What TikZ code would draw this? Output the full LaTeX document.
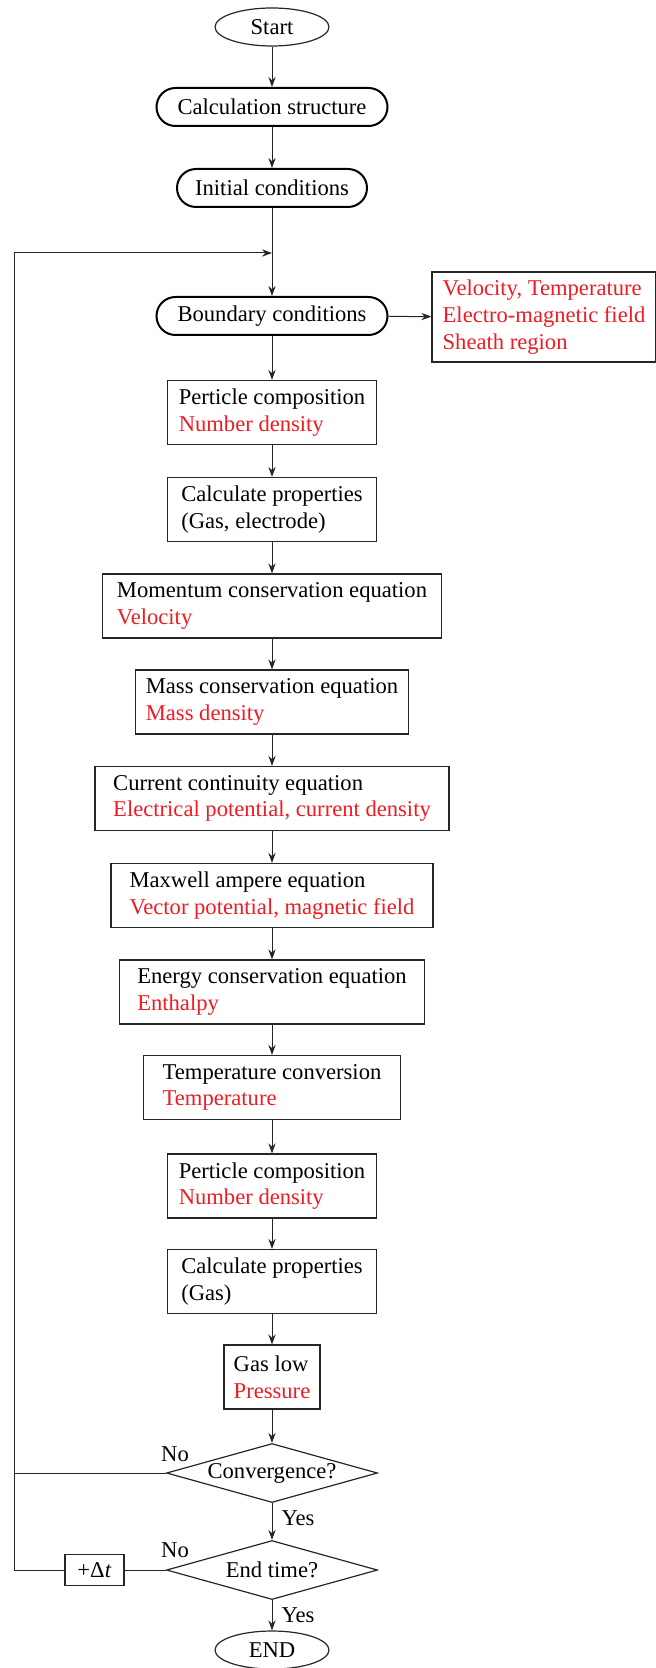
\documentclass[tikz,border=0pt]{standalone}
\usepackage{fontspec}
\setmainfont{Liberation Serif}
\usetikzlibrary{shapes.geometric,arrows.meta}
\definecolor{txtred}{RGB}{237,28,36}
\begin{document}
\begin{tikzpicture}[x=0.5pt,y=-0.5pt,
  font=\fontsize{11.3}{13.4}\selectfont,
  box/.style={draw=black!85, line width=0.6pt, minimum height=32pt, align=left, inner sep=0pt},
  pill/.style={draw=black, line width=1pt, rounded corners=9.5pt, minimum height=19pt, inner sep=0pt},
  term/.style={draw=black!85, ellipse, line width=0.6pt, minimum width=57pt, minimum height=19pt, inner sep=0pt},
  dec/.style={draw=black!85, diamond, aspect=3.58, minimum width=105.5pt, minimum height=29.5pt, inner sep=0pt, line width=0.6pt},
  lbl/.style={inner sep=0pt},
  arr/.style={-{Stealth[length=5pt,width=3.6pt]}, line width=0.5pt, draw=black!85},
  ln/.style={line width=0.5pt, draw=black!85}]
\useasboundingbox (0,0) rectangle (656,1668);
\node[term] (start) at (272,27) {Start};
\node[pill, minimum width=115.5pt] (calc) at (272,107) {Calculation structure};
\node[pill, minimum width=95pt] (init) at (272,188) {Initial conditions};
\coordinate (join) at (272,253);
\node[pill, minimum width=115.5pt] (bound) at (272,316) {Boundary conditions};
\node[box, minimum width=112pt, minimum height=45pt, text=txtred] (bc) at (544,317) {Velocity, Temperature\\Electro-magnetic field\\Sheath region};
\node[box, minimum width=104.6pt] (pc1) at (272,412.5) {Perticle composition\\\textcolor{txtred}{Number density}};
\node[box, minimum width=104.6pt] (cp1) at (272,509.5) {Calculate properties\\(Gas, electrode)};
\node[box, minimum width=169.2pt] (mom) at (272,606) {Momentum conservation equation\\\textcolor{txtred}{Velocity}};
\node[box, minimum width=136.8pt] (mass) at (272,702) {Mass conservation equation\\\textcolor{txtred}{Mass density}};
\node[box, minimum width=177pt] (cur) at (272,798.5) {Current continuity equation\\\textcolor{txtred}{Electrical potential, current density}};
\node[box, minimum width=161pt] (max) at (272,895.5) {Maxwell ampere equation\\\textcolor{txtred}{Vector potential, magnetic field}};
\node[box, minimum width=152.8pt] (ene) at (272,992) {Energy conservation equation\\\textcolor{txtred}{Enthalpy}};
\node[box, minimum width=128.8pt] (tmp) at (272,1087.5) {Temperature conversion\\\textcolor{txtred}{Temperature}};
\node[box, minimum width=104.6pt] (pc2) at (272,1186) {Perticle composition\\\textcolor{txtred}{Number density}};
\node[box, minimum width=104.6pt] (cp2) at (272,1281.5) {Calculate properties\\(Gas)};
\node[box, minimum width=48pt] (gas) at (272,1377) {Gas low\\\textcolor{txtred}{Pressure}};
\node[dec] (conv) at (272,1473) {\makebox[0pt]{Convergence?}};
\node[dec] (endt) at (272,1570) {\makebox[0pt]{End time?}};
\node[term] (endn) at (272,1650) {END};
\node[box, minimum width=29.5pt, minimum height=15.5pt, align=center] (dt) at (94.5,1570) {+Δ\textit{t}};
\coordinate (cornerT) at (14,253);
\coordinate (cornerB) at (14,1570);
\coordinate (cornerC) at (14,1473);
\node[lbl] (no1) at (175,1454) {No};
\node[lbl] (no2) at (175,1550) {No};
\node[lbl] (yes1) at (298,1518) {Yes};
\node[lbl] (yes2) at (298,1615) {Yes};
\draw[arr] (start) -- (calc);
\draw[arr] (calc) -- (init);
\draw[arr] (init) -- (bound);
\draw[arr] (bound) -- (bc);
\draw[arr] (bound) -- (pc1);
\draw[arr] (pc1) -- (cp1);
\draw[arr] (cp1) -- (mom);
\draw[arr] (mom) -- (mass);
\draw[arr] (mass) -- (cur);
\draw[arr] (cur) -- (max);
\draw[arr] (max) -- (ene);
\draw[arr] (ene) -- (tmp);
\draw[arr] (tmp) -- (pc2);
\draw[arr] (pc2) -- (cp2);
\draw[arr] (cp2) -- (gas);
\draw[arr] (gas) -- (conv);
\draw[arr] (conv) -- (endt);
\draw[arr] (endt) -- (endn);
\draw[ln] (conv.west) -- (cornerC);
\draw[ln] (endt.west) -- (dt.east);
\draw[arr] (dt.west) -- (cornerB) -- (cornerT) -- (join);
\end{tikzpicture}
\end{document}
